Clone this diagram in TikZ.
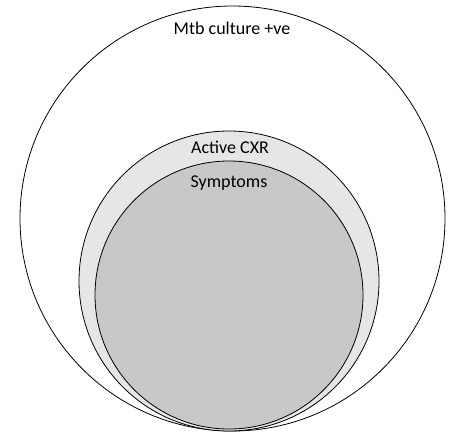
\documentclass[tikz,border=0pt]{standalone}
\usepackage{fontspec}
\setmainfont{Carlito}
\begin{document}
\begin{tikzpicture}[x=1pt,y=-1pt,
  ring/.style={draw=black,line width=0.8pt},
  lbl/.style={font=\fontsize{18}{20}\selectfont,inner sep=0pt,anchor=center}]
\useasboundingbox (0,0) rectangle (454,432);
\node[ring,circle,minimum size=425pt,inner sep=0pt,fill=white] (culture) at (232.5,218.5) {};
\node[ring,circle,minimum size=300pt,inner sep=0pt,fill={rgb,255:red,230;green,230;blue,230}] (cxr) at (229,281) {};
\node[ring,circle,minimum size=268pt,inner sep=0pt,fill={rgb,255:red,200;green,200;blue,200}] (sym) at (229,295) {};
\node[lbl] (tculture) at (232,28) {Mtb culture +ve};
\node[lbl] (tcxr) at (230,147) {Active CXR};
\node[lbl] (tsym) at (229,183) {Symptoms};
\end{tikzpicture}
\end{document}
